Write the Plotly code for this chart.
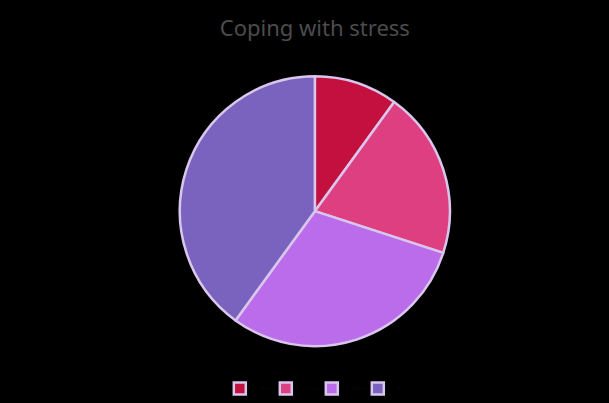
import plotly.graph_objects as go

labels = ["Exercise", "Talking", "Hobbies", "Rest"]
values = [10, 20, 30, 40]
colors = ["#C4103E", "#DE3F80", "#BB6CEB", "#7A63BE"]
title_text = "Coping with stress"

fig = go.Figure(go.Pie(
    labels=labels, values=values, sort=False, direction="clockwise", rotation=0,
    marker=dict(colors=colors, line=dict(color="#D9C6EC", width=2.5)),
    textinfo="none", hoverinfo="label+percent",
    domain=dict(x=[0.295, 0.739], y=[0.141, 0.811]),
))
fig.update_layout(
    width=609, height=403,
    paper_bgcolor="#000000", plot_bgcolor="#000000",
    margin=dict(l=0, r=0, t=0, b=0),
    title=dict(text=title_text, x=0.517, xanchor="center", y=0.93, yanchor="middle",
               font=dict(family="Noto Sans", size=22, color="#4c4c4c")),
    legend=dict(orientation="h", x=0.512, xanchor="center", y=0.0, yanchor="bottom",
                font=dict(size=4, color="#0a0a0a"), entrywidth=1, entrywidthmode="pixels",
                itemwidth=30, bgcolor="rgba(0,0,0,0)"),
)
fig.write_html("out.html", config={"displayModeBar": False},
               post_script="document.body.style.margin='0';document.body.style.background='#000';")
